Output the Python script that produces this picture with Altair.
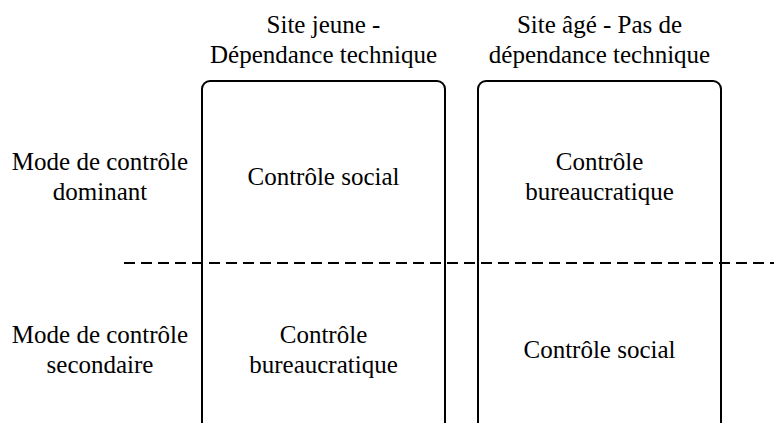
import altair as alt
import pandas as pd

# ---------------- content ----------------
column_titles = ["Site jeune -\nDépendance technique",
                 "Site âgé - Pas de\ndépendance technique"]
row_titles = ["Mode de contrôle\ndominant",
              "Mode de contrôle\nsecondaire"]
cells_dominant = ["Contrôle social", "Contrôle\nbureaucratique"]
cells_secondary = ["Contrôle\nbureaucratique", "Contrôle social"]

# ---------------- layout (diagram units = page pixels) ----------------
W, H = 766, 415
X0, Y0 = 8, 8
col_left = [202, 478]
col_right = [445, 721]
box_top = 81
box_bottom = 470          # runs off the bottom of the figure
label_x = 100
header_y = 40
row_y = [177, 350]
divider_y = 263
divider_x = [124, 782]

FONT = "Liberation Serif"
FS = 25
LH = 30

col_center = [(a + b) / 2 for a, b in zip(col_left, col_right)]

xs = alt.Scale(domain=[X0, X0 + W], nice=False, zero=False)
ys = alt.Scale(domain=[Y0, Y0 + H], nice=False, zero=False, reverse=True)

# boxes
boxes = pd.DataFrame({
    "x": col_left, "x2": col_right,
    "y": [box_top] * 2, "y2": [box_bottom] * 2,
})
box_layer = alt.Chart(boxes).mark_rect(
    cornerRadius=8, fillOpacity=0, stroke="black", strokeWidth=2, clip=True
).encode(
    x=alt.X("x:Q", scale=xs, axis=None),
    x2="x2:Q",
    y=alt.Y("y:Q", scale=ys, axis=None),
    y2="y2:Q",
)

# dashed divider
divider = pd.DataFrame({"x": [divider_x[0]], "x2": [divider_x[1]], "y": [divider_y]})
rule_layer = alt.Chart(divider).mark_rule(
    color="black", strokeWidth=2, strokeDash=[11, 6], clip=True
).encode(
    x=alt.X("x:Q", scale=xs, axis=None),
    x2="x2:Q",
    y=alt.Y("y:Q", scale=ys, axis=None),
)

# texts (multi-line blocks are centred on their anchor)
def place(text, x, y):
    n = text.count("\n") + 1
    return {"text": text, "x": x, "y": y - (n - 1) * LH / 2}

txt_rows = []
for c, t in enumerate(column_titles):
    txt_rows.append(place(t, col_center[c], header_y))
for r, t in enumerate(row_titles):
    txt_rows.append(place(t, label_x, row_y[r]))
for c, t in enumerate(cells_dominant):
    txt_rows.append(place(t, col_center[c], row_y[0]))
for c, t in enumerate(cells_secondary):
    txt_rows.append(place(t, col_center[c], row_y[1]))
texts = pd.DataFrame(txt_rows)

text_layer = alt.Chart(texts).mark_text(
    font=FONT, fontSize=FS, lineHeight=LH, lineBreak="\n",
    align="center", baseline="middle", color="black"
).encode(
    x=alt.X("x:Q", scale=xs, axis=None),
    y=alt.Y("y:Q", scale=ys, axis=None),
    text="text:N",
)

chart = alt.layer(box_layer, rule_layer, text_layer).properties(
    width=W, height=H, padding=0,
    autosize=alt.AutoSizeParams(type="none"),
    background="white",
).configure_view(stroke=None)

chart.save("out.html", embed_options={"renderer": "svg", "actions": False})
